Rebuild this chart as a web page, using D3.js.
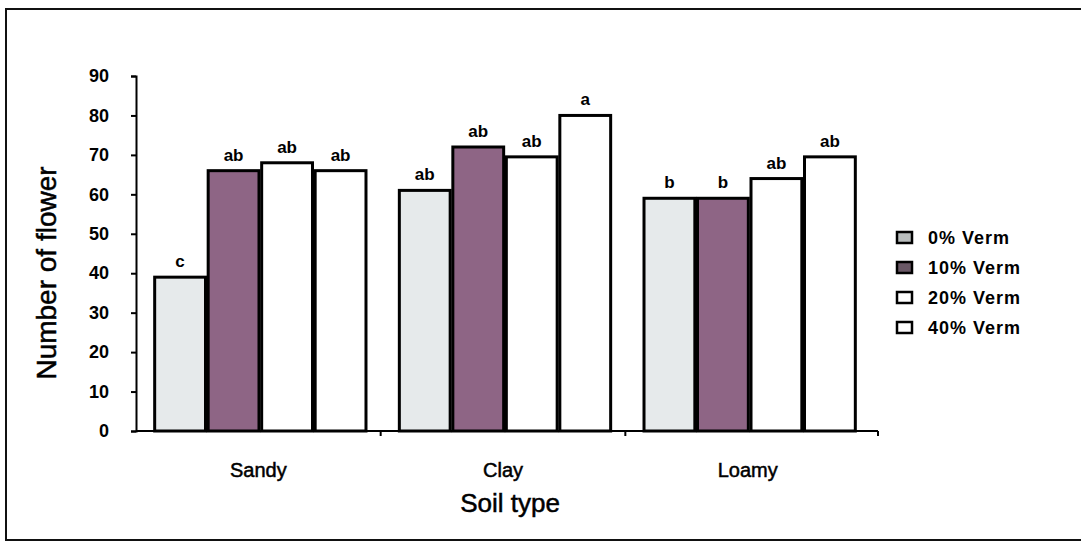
<!DOCTYPE html>
<html>
<head>
<meta charset="utf-8">
<script src="https://cdn.jsdelivr.net/npm/d3@7"></script>
<style>
  body { margin: 0; background: #fff; }
  text { font-family: "Liberation Sans", Arial, sans-serif; }
</style>
</head>
<body>
<div id="chart"></div>
<script>
// setting up constants
const FRAME_WIDTH = 1081;
const FRAME_HEIGHT = 549;
const MARGINS = {left: 136, right: 203, top: 76, bottom: 118};

const VIS_WIDTH = FRAME_WIDTH - MARGINS.left - MARGINS.right;
const VIS_HEIGHT = FRAME_HEIGHT - MARGINS.top - MARGINS.bottom;

// data
const soils = ["Sandy", "Clay", "Loamy"];
const treatments = ["0% Verm", "10% Verm", "20% Verm", "40% Verm"];
const verm0 = [39, 61, 59];
const verm10 = [66, 72, 59];
const verm20 = [68, 69.5, 64];
const verm40 = [66, 80, 69.5];
const letters0 = ["c", "ab", "b"];
const letters10 = ["ab", "ab", "b"];
const letters20 = ["ab", "ab", "ab"];
const letters40 = ["ab", "a", "ab"];
const yTicks = [0, 10, 20, 30, 40, 50, 60, 70, 80, 90];

const seriesValues = [verm0, verm10, verm20, verm40];
const seriesLetters = [letters0, letters10, letters20, letters40];
const seriesFill = ["#e6eaeb", "#8e6585", "#ffffff", "#ffffff"];
const legendFill = ["#b9bdbd", "#6a5866", "#ffffff", "#ffffff"];

const svg = d3.select("#chart")
    .append("svg")
        .attr("width", FRAME_WIDTH)
        .attr("height", FRAME_HEIGHT);

// outer border of the figure
svg.append("rect")
    .attr("x", 6)
    .attr("y", 9)
    .attr("width", FRAME_WIDTH + 20)
    .attr("height", 531)
    .attr("fill", "none")
    .attr("stroke", "#111")
    .attr("stroke-width", 2);

const FRAME = svg.append("g")
    .attr("transform", "translate(" + MARGINS.left + "," + MARGINS.top + ")");

// scales
const xScale = d3.scaleBand()
    .domain(soils)
    .range([0, VIS_WIDTH - 8]);

const xInner = d3.scaleBand()
    .domain(treatments)
    .range([16, xScale.bandwidth() - 12])
    .padding(0.05);

const yScale = d3.scaleLinear()
    .domain([0, 90])
    .range([VIS_HEIGHT, 0]);

// bars
const rows = [];
soils.forEach((s, i) => {
    treatments.forEach((t, j) => {
        rows.push({soil: s, treat: t, j: j, value: seriesValues[j][i], letter: seriesLetters[j][i]});
    });
});

FRAME.selectAll(".bar")
    .data(rows)
    .enter()
    .append("rect")
        .attr("class", "bar")
        .attr("x", d => xScale(d.soil) + xInner(d.treat))
        .attr("y", d => yScale(d.value))
        .attr("width", xInner.bandwidth())
        .attr("height", d => VIS_HEIGHT - yScale(d.value))
        .attr("fill", d => seriesFill[d.j])
        .attr("stroke", "#000")
        .attr("stroke-width", 3);

// significance letters
FRAME.selectAll(".letter")
    .data(rows)
    .enter()
    .append("text")
        .attr("class", "letter")
        .attr("x", d => xScale(d.soil) + xInner(d.treat) + xInner.bandwidth() / 2)
        .attr("y", d => yScale(d.value) - 10)
        .attr("text-anchor", "middle")
        .attr("font-size", 17)
        .attr("font-weight", "bold")
        .text(d => d.letter);

// y axis
const yAxis = FRAME.append("g")
    .call(d3.axisLeft(yScale).tickValues(yTicks).tickSize(5).tickPadding(22));
yAxis.select(".domain").attr("stroke-width", 2);
yAxis.selectAll(".tick line").attr("stroke-width", 2);
yAxis.selectAll("text")
    .attr("font-size", 18)
    .attr("font-weight", "bold")
    .attr("font-family", "Liberation Sans, Arial, sans-serif");

// x axis
const xAxis = FRAME.append("g")
    .attr("transform", "translate(0," + VIS_HEIGHT + ")")
    .call(d3.axisBottom(xScale).tickSize(0).tickPadding(32));
xAxis.select(".domain")
    .attr("d", "M0,0H" + VIS_WIDTH)
    .attr("stroke-width", 2);
xAxis.selectAll("text")
    .attr("font-size", 20)
    .attr("stroke", "#000")
    .attr("stroke-width", 0.5)
    .attr("font-family", "Liberation Sans, Arial, sans-serif");

// small ticks at group boundaries
FRAME.selectAll(".xtick")
    .data(soils)
    .enter()
    .append("line")
        .attr("x1", (d, i) => i === soils.length - 1 ? VIS_WIDTH : xScale(d) + xScale.bandwidth())
        .attr("x2", (d, i) => i === soils.length - 1 ? VIS_WIDTH : xScale(d) + xScale.bandwidth())
        .attr("y1", VIS_HEIGHT)
        .attr("y2", VIS_HEIGHT + 5)
        .attr("stroke", "#000")
        .attr("stroke-width", 2);

// axis titles
svg.append("text")
    .attr("x", MARGINS.left + VIS_WIDTH / 2 + 3)
    .attr("y", 512)
    .attr("text-anchor", "middle")
    .attr("font-size", 26)
    .attr("stroke", "#000")
    .attr("stroke-width", 0.5)
    .text("Soil type");

svg.append("text")
    .attr("transform", "translate(56," + 273 + ") rotate(-90)")
    .attr("text-anchor", "middle")
    .attr("font-size", 28)
    .attr("stroke", "#000")
    .attr("stroke-width", 0.5)
    .text("Number of flower");

// legend
const legend = svg.append("g")
    .attr("transform", "translate(897,232)");

const legendItem = legend.selectAll(".legend")
    .data(treatments)
    .enter()
    .append("g")
        .attr("transform", (d, i) => "translate(0," + (i * 30) + ")");

legendItem.append("rect")
    .attr("width", 15)
    .attr("height", 11)
    .attr("fill", (d, i) => legendFill[i])
    .attr("stroke", "#000")
    .attr("stroke-width", 2.5);

legendItem.append("text")
    .attr("x", 31)
    .attr("y", 12)
    .attr("font-size", 18)
    .attr("font-weight", "bold")
    .attr("letter-spacing", 1)
    .text(d => d);
</script>
</body>
</html>
